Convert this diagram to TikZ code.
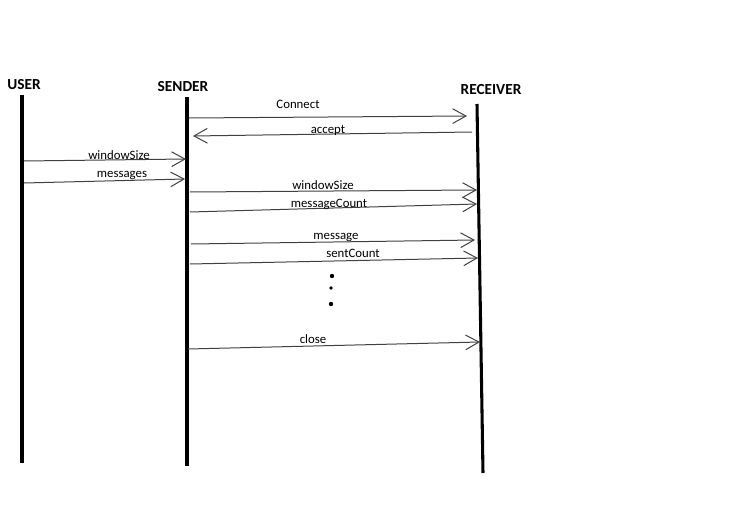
\documentclass[tikz,border=0pt]{standalone}
\usepackage{fontspec}
\setmainfont{Carlito}
\usetikzlibrary{arrows.meta}

\tikzset{
  lifeline/.style={line width=2.3pt, black},
  msg/.style={line width=0.75pt, black!75, -{Straight Barb[length=10pt, width=11pt, line width=0.75pt]}},
  lbl/.style={anchor=base, inner sep=0pt, font=\fontsize{9.6}{11}\selectfont},
  head/.style={inner sep=0pt, font=\fontsize{11.5}{13}\selectfont\bfseries}
}

\begin{document}
\begin{tikzpicture}[x=0.75pt, y=-0.75pt]
  \useasboundingbox (0,0) rectangle (742,528);
  % participants
  \node[head] (user) at (24,85) {USER};
  \node[head] (sender) at (183,87) {SENDER};
  \node[head] (receiver) at (491,90) {RECEIVER};
  \coordinate (u0) at (22,95);   \coordinate (u1) at (22,463);
  \coordinate (s0) at (187,97);  \coordinate (s1) at (187,466);
  \coordinate (r0) at (477,104); \coordinate (r1) at (483,473);
  \draw[lifeline] (u0) -- (u1);
  \draw[lifeline] (s0) -- (s1);
  \draw[lifeline] (r0) -- (r1);
  % messages
  \draw[msg] (189,118) -- (467,116);
  \node[lbl] (connect) at (298,108.5) {Connect};
  \draw[msg] (472,132) -- (193,136);
  \node[lbl] (accept) at (328,133) {accept};
  \draw[msg] (24,161) -- (186,159);
  \node[lbl] (winuser) at (119,159) {windowSize};
  \draw[msg] (24,183) -- (185,179);
  \node[lbl] (messages) at (122,177) {messages};
  \draw[msg] (190,192) -- (477,190);
  \node[lbl] (winsend) at (323,189) {windowSize};
  \draw[msg] (190,212) -- (477,204);
  \node[lbl] (msgcount) at (329,207) {messageCount};
  \draw[msg] (191,244) -- (475,240);
  \node[lbl] (message) at (336,239) {message};
  \draw[msg] (190,264) -- (478,258);
  \node[lbl] (sentcount) at (353,257) {sentCount};
  % dots
  \fill (332,276) circle (2.2);
  \fill (331,288) circle (1.8);
  \fill (331,304) circle (2.2);
  \draw[msg] (188,349) -- (480,342);
  \node[lbl] (close) at (313,343) {close};
\end{tikzpicture}
\end{document}
